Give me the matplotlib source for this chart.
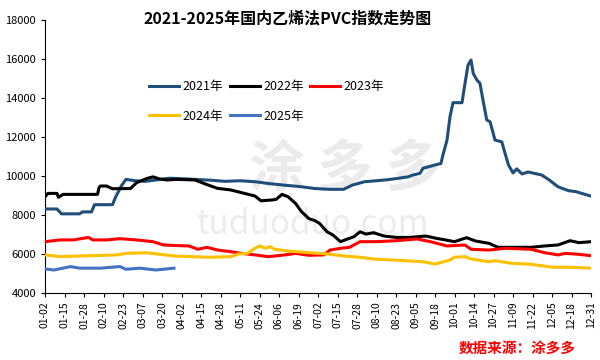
import matplotlib.pyplot as plt

plt.rcParams['font.family'] = ['Noto Sans CJK SC', 'DejaVu Sans']

# day index counted from 01-02
d2021 = [0, 8, 11, 23, 25, 31, 33, 45, 47, 51, 54, 60, 67, 75, 83, 90, 100, 110, 120, 130,
         140, 150, 160, 170, 180, 190, 199, 205, 213, 221, 228, 235, 242, 245, 250, 252, 260,
         264, 265, 268, 270, 272, 278, 280, 282, 284, 285.5, 288, 290, 292, 294.5, 296.7, 300,
         304.5, 306.7, 309, 312, 314.5, 318, 322, 331, 336, 342, 349, 354, 360, 364]
v2021 = [8300, 8300, 8050, 8050, 8150, 8150, 8520, 8520, 8900, 9500, 9820, 9750, 9720, 9800,
         9880, 9860, 9820, 9780, 9720, 9750, 9700, 9600, 9520, 9450, 9350, 9310, 9310, 9530,
         9700, 9750, 9800, 9870, 9950, 10040, 10130, 10390, 10560, 10640, 10985, 11840, 13040,
         13760, 13760, 14750, 15690, 15950, 15260, 14920, 14750, 13890, 12870, 12780, 11840,
         11750, 11160, 10557, 10150, 10360, 10100, 10200, 10050, 9800, 9440, 9240, 9190, 9050,
         8960]

d2022 = [0, 2, 8, 9, 12, 35, 36, 37, 41, 45, 57, 61, 68, 72, 76, 81, 88, 100, 107, 115, 124,
         133, 140, 144, 151, 154, 158, 162, 167, 171, 176, 180, 183, 188, 192, 197, 201, 206,
         210, 214, 219, 226, 234, 243, 254, 261, 267, 273, 281, 287, 296, 302, 311, 324, 333,
         342, 350, 356, 364]
v2022 = [8930, 9100, 9100, 8900, 9050, 9050, 9400, 9480, 9480, 9340, 9350, 9650, 9870, 9950,
         9850, 9790, 9820, 9790, 9580, 9360, 9275, 9100, 8965, 8720, 8760, 8790, 9050, 8930,
         8590, 8160, 7800, 7700, 7560, 7130, 6960, 6620, 6740, 6875, 7130, 7010, 7080, 6910,
         6840, 6840, 6910, 6790, 6710, 6620, 6825, 6655, 6535, 6330, 6330, 6330, 6400, 6450,
         6670, 6570, 6620]

d2023 = [0, 10, 19, 29, 32, 41, 50, 61, 72, 79, 88, 96, 102, 108, 115, 124, 131, 140, 149, 160,
         167, 176, 186, 190, 197, 203, 210, 221, 234, 248, 257, 268, 280, 284, 296, 307, 324,
         333, 342, 347, 356, 364]
v2023 = [6620, 6710, 6710, 6840, 6710, 6710, 6775, 6710, 6620, 6450, 6420, 6400, 6230, 6330,
         6190, 6105, 6020, 5940, 5850, 5940, 6020, 5920, 5940, 6190, 6280, 6330, 6620, 6620,
         6670, 6760, 6620, 6400, 6450, 6230, 6190, 6280, 6230, 6055, 5940, 6020, 5970, 5900]

d2024 = [0, 10, 23, 48, 54, 68, 86, 109, 124, 129, 135, 140, 143, 147, 150, 153, 162, 176, 188,
         199, 210, 221, 232, 243, 252, 260, 266, 270, 273, 280, 284, 296, 300, 311, 324, 338,
         347, 364]
v2024 = [5940, 5850, 5885, 5940, 6020, 6050, 5885, 5820, 5850, 5990, 6020, 6280, 6400, 6280,
         6370, 6230, 6140, 6055, 5990, 5885, 5820, 5715, 5680, 5630, 5590, 5475, 5590, 5680,
         5820, 5850, 5730, 5590, 5640, 5510, 5460, 5310, 5310, 5260]

d2025 = [0, 6, 17, 23, 37, 50, 54, 63, 74, 86]
v2025 = [5220, 5165, 5340, 5260, 5260, 5340, 5200, 5260, 5165, 5260]

tick_labels = ['01-02', '01-15', '01-28', '02-10', '02-23', '03-07', '03-20', '04-02', '04-15',
               '04-28', '05-11', '05-24', '06-06', '06-19', '07-02', '07-15', '07-28', '08-10',
               '08-23', '09-05', '09-18', '10-01', '10-14', '10-27', '11-09', '11-22', '12-05',
               '12-18', '12-31']

fig = plt.figure(figsize=(6, 3.6), dpi=100)
ax = fig.add_axes([0.075, 0.187, 0.91, 0.757])

# faint watermark
ax.text(0.55, 0.45, '涂 多 多', transform=ax.transAxes, fontsize=40, color='#ebebeb',
        ha='center', va='center', fontweight='bold', zorder=0)
ax.text(0.49, 0.25, 'tuduoduo.com', transform=ax.transAxes, fontsize=24, color='#ececec',
        ha='center', va='center', zorder=0)

lw = 2.2
l21, = ax.plot(d2021, v2021, color='#1F4E79', lw=lw, label='2021年', zorder=3)
l22, = ax.plot(d2022, v2022, color='black', lw=lw, label='2022年', zorder=3)
l23, = ax.plot(d2023, v2023, color='#FF0000', lw=lw, label='2023年', zorder=3)
l24, = ax.plot(d2024, v2024, color='#FFC000', lw=lw, label='2024年', zorder=3)
l25, = ax.plot(d2025, v2025, color='#4472C4', lw=lw, label='2025年', zorder=3)

ax.set_xlim(0, 364)
ax.set_ylim(4000, 18000)
ax.set_yticks(range(4000, 18001, 2000))
ax.set_xticks([i * 13 for i in range(len(tick_labels))])
ax.set_xticklabels(tick_labels, rotation=90, fontsize=7.5)
ax.tick_params(axis='y', labelsize=8, length=3)
ax.tick_params(axis='x', length=3)
for s in ['top', 'right']:
    ax.spines[s].set_visible(False)

# legend fills column by column, so order handles to get rows 2021-2023 / 2024-2025
handles = [l21, l24, l22, l25, l23]
ax.legend(handles, [h.get_label() for h in handles], loc='upper left',
          bbox_to_anchor=(0.17, 0.82), ncol=3, frameon=False, fontsize=9,
          handlelength=2.4, handletextpad=0.3, columnspacing=0.5, labelspacing=1.3)

fig.text(0.48, 0.95, '2021-2025年国内乙烯法PVC指数走势图', ha='center', va='center',
         fontsize=11.5, fontweight='bold')
fig.text(0.96, 0.035, '数据来源：涂多多', ha='right', va='center', fontsize=10.5,
         color='#FF0000', style='italic', fontweight='bold')

plt.savefig('out.png', dpi=100)
